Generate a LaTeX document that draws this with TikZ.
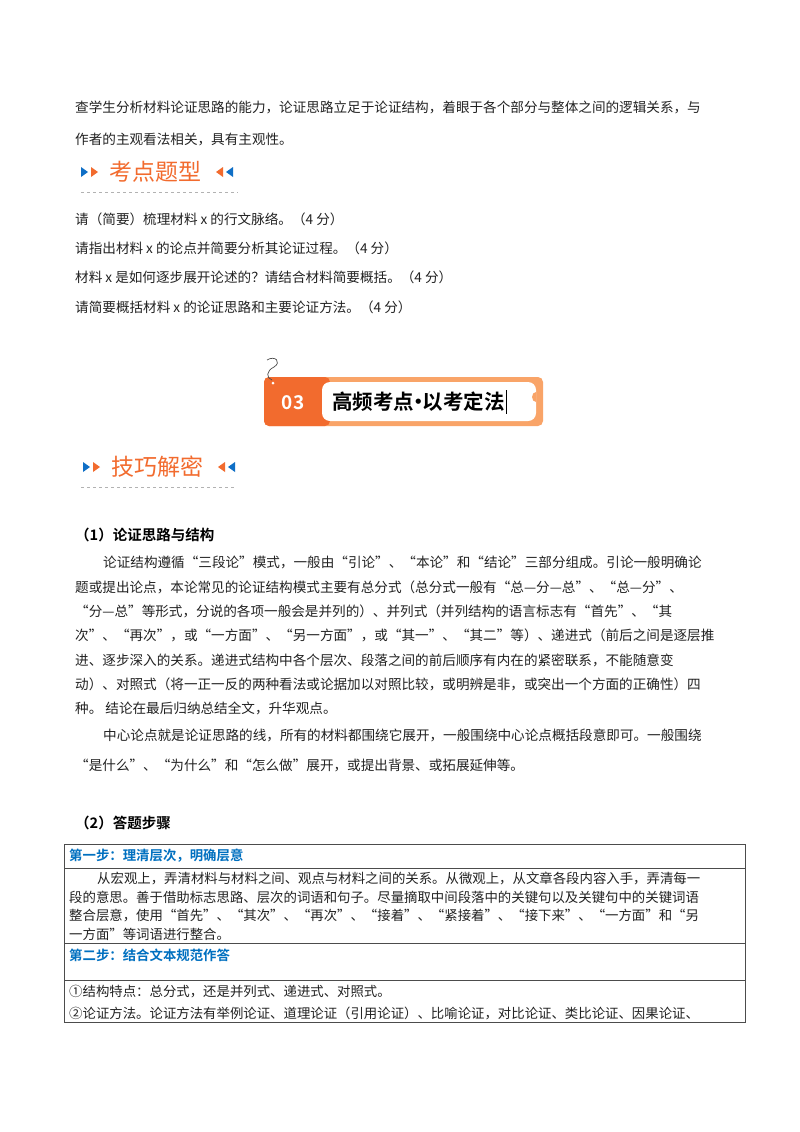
\documentclass[tikz,border=0pt]{standalone}
\usepackage{fontspec}
\setmainfont{Noto Sans CJK SC}[BoldFont={Noto Sans CJK SC Bold}]
\definecolor{org}{HTML}{F26B2E}
\definecolor{lorg}{HTML}{F9A468}
\definecolor{blu}{HTML}{0F6FC6}
\definecolor{stepblue}{HTML}{0070C0}
\definecolor{tx}{HTML}{222222}
\tikzset{
 ln/.style={anchor=west,inner sep=0pt,font=\fontsize{13.6}{16}\selectfont,text=tx},
 tl/.style={anchor=west,inner sep=0pt,font=\fontsize{13.4}{16}\selectfont,text=tx},
 hd/.style={anchor=west,inner sep=0pt,font=\fontsize{14.5}{17}\selectfont\bfseries,text=black},
 sh/.style={anchor=west,inner sep=0pt,font=\fontsize{13.4}{16}\selectfont\bfseries,text=stepblue},
 big/.style={anchor=west,inner sep=0pt,font=\fontsize{23}{26}\selectfont,text=org},
 grid/.style={draw=black!70,line width=0.9pt}
}
\begin{document}
\begin{tikzpicture}[x=1pt,y=-1pt]
\useasboundingbox[fill=white] (0,0) rectangle (800,1132);
% top text
\node[ln] (l1) at (75,107) {查学生分析材料论证思路的能力，论证思路立足于论证结构，着眼于各个部分与整体之间的逻辑关系，与};
\node[ln] (l2) at (75,139) {作者的主观看法相关，具有主观性。};
% heading 1
\fill[blu] (81,167)--(88,172)--(81,177)--cycle;
\fill[org] (91,167)--(98,172)--(91,177)--cycle;
\node[big] (h1) at (109,172) {考点题型};
\fill[org] (223,167)--(216,172)--(223,177)--cycle;
\fill[blu] (233,167)--(226,172)--(233,177)--cycle;
\draw[gray!60,dashed,line width=0.6pt] (81,192)--(238,192);
\node[ln] (q1) at (75,219) {请（简要）梳理材料 x 的行文脉络。（4 分）};
\node[ln] (q2) at (75,248) {请指出材料 x 的论点并简要分析其论证过程。（4 分）};
\node[ln] (q3) at (75,277) {材料 x 是如何逐步展开论述的？请结合材料简要概括。（4 分）};
\node[ln] (q4) at (75,307) {请简要概括材料 x 的论证思路和主要论证方法。（4 分）};
% banner
\fill[lorg,rounded corners=5pt] (264,377) rectangle (543,426);
\fill[org,rounded corners=5pt] (264,377) rectangle (330,426);
\fill[white,rounded corners=8pt] (322,382) rectangle (536,421);
\fill[lorg] (536,392) arc (-90:90:-4 and 5);
\draw[black!70,line width=0.7pt] (267,360) .. controls (275,355) and (282,362) .. (274,367) .. controls (266,371) and (266,378) .. (272,380);
\fill[white] (273,383) circle (1.5);
\node[anchor=center,inner sep=0pt,font=\fontsize{19}{20}\selectfont\bfseries,text=white] (n03) at (293,403) {03};
\node[anchor=west,inner sep=0pt,font=\fontsize{20.5}{22}\selectfont\bfseries,text=black] (bt) at (332,402) {高频考点\kern-6pt·\kern-6pt以考定法};
\draw[black,line width=0.6pt] (bt.east)++(1,-12)--++(0,24);
% heading 2
\fill[blu] (83,462)--(90,467)--(83,472)--cycle;
\fill[org] (93,462)--(100,467)--(93,472)--cycle;
\node[big] (h2) at (111,467) {技巧解密};
\fill[org] (225,462)--(218,467)--(225,472)--cycle;
\fill[blu] (235,462)--(228,467)--(235,472)--cycle;
\draw[gray!60,dashed,line width=0.6pt] (81,487)--(236,487);
% section 1
\node[hd] (s1) at (75,535) {（1）论证思路与结构};
\node[ln] (p1) at (103,562) {论证结构遵循“三段论”模式，一般由“引论”、“本论”和“结论”三部分组成。引论一般明确论};
\node[ln] (p2) at (75,587) {题或提出论点，本论常见的论证结构模式主要有总分式（总分式一般有“总—分—总”、“总—分”、};
\node[ln] (p3) at (75,611) {“分—总”等形式，分说的各项一般会是并列的）、并列式（并列结构的语言标志有“首先”、“其};
\node[ln] (p4) at (75,635) {次”、“再次”，或“一方面”、“另一方面”，或“其一”、“其二”等）、递进式（前后之间是逐层推};
\node[ln] (p5) at (75,660) {进、逐步深入的关系。递进式结构中各个层次、段落之间的前后顺序有内在的紧密联系，不能随意变};
\node[ln] (p6) at (75,684) {动）、对照式（将一正一反的两种看法或论据加以对照比较，或明辨是非，或突出一个方面的正确性）四};
\node[ln] (p7) at (75,708) {种。 结论在最后归纳总结全文，升华观点。};
\node[ln] (p8) at (103,735) {中心论点就是论证思路的线，所有的材料都围绕它展开，一般围绕中心论点概括段意即可。一般围绕};
\node[ln] (p9) at (75,765) {“是什么”、“为什么”和“怎么做”展开，或提出背景、或拓展延伸等。};
% section 2
\node[hd] (s2) at (75,823) {（2）答题步骤};
\draw[grid] (64,844) rectangle (745,1022);
\draw[grid] (64,868)--(745,868);
\draw[grid] (64,943)--(745,943);
\draw[grid] (64,980)--(745,980);
\node[sh] (t1) at (69,856) {第一步：理清层次，明确层意};
\node[tl] (b1) at (97,878) {从宏观上，弄清材料与材料之间、观点与材料之间的关系。从微观上，从文章各段内容入手，弄清每一};
\node[tl] (b2) at (69,897) {段的意思。善于借助标志思路、层次的词语和句子。尽量摘取中间段落中的关键句以及关键句中的关键词语};
\node[tl] (b3) at (69,916) {整合层意，使用“首先”、“其次”、“再次”、“接着”、“紧接着”、“接下来”、“一方面”和“另};
\node[tl] (b4) at (69,934) {一方面”等词语进行整合。};
\node[sh] (t2) at (69,955) {第二步：结合文本规范作答};
\node[tl] (c1) at (69,992) {①结构特点：总分式，还是并列式、递进式、对照式。};
\node[tl] (c2) at (69,1013) {②论证方法。论证方法有举例论证、道理论证（引用论证）、比喻论证，对比论证、类比论证、因果论证、};
\end{tikzpicture}
\end{document}
